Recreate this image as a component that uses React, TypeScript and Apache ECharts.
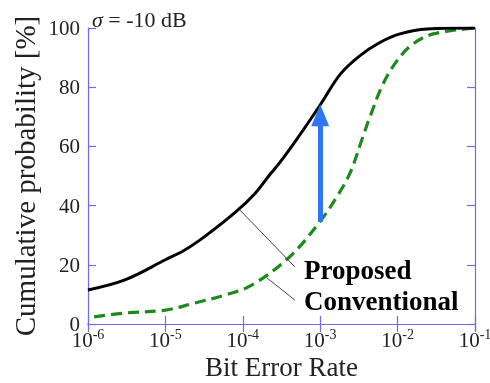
import React, { useEffect, useRef } from "react";
import * as echarts from "echarts";

// Bit error rate samples (x) and cumulative probability [%] (y)
const proposedBER = [1e-6, 3.0e-6, 1e-5, 1.78e-5, 3.24e-5, 7.9e-5, 1.45e-4, 2.24e-4, 3.0e-4, 5.1e-4, 1e-3, 1.82e-3, 3.24e-3, 5.9e-3, 1.07e-2, 2.4e-2, 1e-1];
const proposedCDF = [11.5, 14.9, 21.7, 25, 29.6, 37.6, 44.2, 50.5, 54.5, 62.8, 74, 84.4, 90.6, 95.1, 98, 99.7, 100];

const conventionalBER = [1.2e-6, 3.0e-6, 1e-5, 2.4e-5, 5.9e-5, 1.32e-4, 4.07e-4, 1e-3, 1.66e-3, 2.45e-3, 3.47e-3, 4.37e-3, 6.46e-3, 9.8e-3, 1.58e-2, 2.88e-2, 1e-1];
const conventionalCDF = [2.4, 3.7, 4.7, 7.1, 9.8, 13.2, 22.8, 34.7, 43.2, 51.2, 62.4, 69.8, 81, 88.9, 94.6, 98, 100];

// improvement arrow at BER = 1e-3
const arrowFrom = [1e-3, 34.5];
const arrowTo = [1e-3, 70.5];

// leader lines for the labels
const proposedLeader = [[9.1e-5, 38.6], [4.7e-4, 19.3]];
const conventionalLeader = [[2.05e-4, 15.6], [4.7e-4, 8.1]];

const seriesNames = ["Proposed", "Conventional"];
const sigmaSymbol = "σ";
const sigmaRest = " = -10 dB";
const xTitle = "Bit Error Rate";
const yTitle = "Cumulative probability [%]";

const FONT = "Liberation Serif";
const AXIS_COLOR = "#6b6bf5";
const TEXT = "#222";

export default function App() {
  const ref = useRef<HTMLDivElement>(null);
  useEffect(() => {
    if (!ref.current) return;
    const chart = echarts.init(ref.current, undefined, { renderer: "svg" });
    const axisLine = { show: true, lineStyle: { color: AXIS_COLOR, width: 1.2 } };
    const axisTick = { show: true, inside: true, length: 8, lineStyle: { color: AXIS_COLOR, width: 1.2 } };
    chart.setOption({
      animation: false,
      textStyle: { fontFamily: FONT },
      grid: { left: 88, right: 15, top: 28, bottom: 59, outerBoundsMode: "none", containLabel: false },
      xAxis: [
        {
          type: "log",
          logBase: 10,
          min: 1e-6,
          max: 1e-1,
          position: "bottom",
          axisLine,
          axisTick,
          splitLine: { show: false },
          name: xTitle,
          nameLocation: "middle",
          nameGap: 28,
          nameMoveOverlap: false,
          nameTextStyle: { fontFamily: FONT, fontSize: 27, lineHeight: 30, color: TEXT },
          axisLabel: {
            margin: 3,
            showMinLabel: true,
            showMaxLabel: true,
            fontFamily: FONT,
            formatter: (v: number) => `{b|10}{s|${Math.round(Math.log10(v))}}`,
            rich: {
              b: { fontFamily: FONT, fontSize: 21, color: TEXT, verticalAlign: "bottom", lineHeight: 23 },
              s: { fontFamily: FONT, fontSize: 14, color: TEXT, verticalAlign: "top", lineHeight: 23 },
            },
          },
        },
        {
          type: "log",
          logBase: 10,
          min: 1e-6,
          max: 1e-1,
          position: "top",
          axisLine,
          axisTick,
          axisLabel: { show: false },
          splitLine: { show: false },
        },
      ],
      yAxis: [
        {
          type: "value",
          min: 0,
          max: 100,
          interval: 20,
          position: "left",
          axisLine,
          axisTick,
          splitLine: { show: false },
          name: yTitle,
          nameLocation: "middle",
          nameGap: 49,
          nameMoveOverlap: false,
          nameTextStyle: { fontFamily: FONT, fontSize: 29, color: TEXT },
          axisLabel: { margin: 8, fontFamily: FONT, fontSize: 21, color: TEXT },
        },
        {
          type: "value",
          min: 0,
          max: 100,
          interval: 20,
          position: "right",
          axisLine,
          axisTick,
          axisLabel: { show: false },
          splitLine: { show: false },
        },
      ],
      series: [
        {
          name: seriesNames[1],
          type: "line",
          xAxisIndex: 0,
          yAxisIndex: 0,
          data: conventionalBER.map((x, i) => [x, conventionalCDF[i]]),
          showSymbol: false,
          smooth: 0.35,
          silent: true,
          lineStyle: { color: "#1e8a1e", width: 3.2, type: [11, 6] },
        },
        {
          name: seriesNames[0],
          type: "line",
          xAxisIndex: 0,
          yAxisIndex: 0,
          data: proposedBER.map((x, i) => [x, proposedCDF[i]]),
          showSymbol: false,
          smooth: 0.35,
          silent: true,
          lineStyle: { color: "#000", width: 3 },
          markLine: {
            silent: true,
            symbol: ["none", "none"],
            label: { show: false },
            emphasis: { disabled: true },
            data: [
              [
                { coord: arrowFrom, symbol: "none", lineStyle: { color: "#2f76f5", width: 5, type: "solid" } },
                { coord: arrowTo, symbol: "triangle", symbolSize: [18, 22] },
              ],
              [
                { coord: proposedLeader[0], lineStyle: { color: "#444", width: 1, type: "solid" } },
                { coord: proposedLeader[1] },
              ],
              [
                { coord: conventionalLeader[0], lineStyle: { color: "#444", width: 1, type: "solid" } },
                { coord: conventionalLeader[1] },
              ],
            ],
          },
        },
      ],
      graphic: [
        {
          type: "text",
          left: 92,
          top: 8,
          style: {
            text: `{i|${sigmaSymbol}}{r|${sigmaRest}}`,
            rich: {
              i: { fontFamily: FONT, fontSize: 22, fontStyle: "italic", fill: TEXT, color: TEXT },
              r: { fontFamily: FONT, fontSize: 22, fill: TEXT, color: TEXT },
            },
            fill: TEXT,
          },
        },
        {
          type: "text",
          left: 304,
          top: 256,
          style: { text: seriesNames[0], fontFamily: FONT, fontSize: 27, fontWeight: "bold", fill: "#000" },
        },
        {
          type: "text",
          left: 304,
          top: 287,
          style: { text: seriesNames[1], fontFamily: FONT, fontSize: 27, fontWeight: "bold", fill: "#000" },
        },
      ],
    });
    return () => chart.dispose();
  }, []);
  return (
    <div
      ref={ref}
      style={{ position: "fixed", left: 0, top: 0, width: 490, height: 383 }}
    />
  );
}
